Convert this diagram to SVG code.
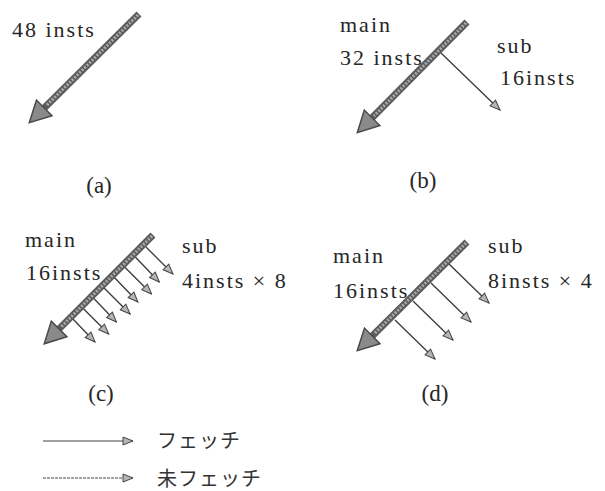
<svg xmlns="http://www.w3.org/2000/svg" width="605" height="491" viewBox="0 0 605 491">
<style>
.shaft{stroke:#5c5c5c;stroke-width:7;fill:none}
.shaft-in{stroke:#ababab;stroke-width:3;stroke-dasharray:2 1.5;fill:none}
.sub{stroke:#3a3a3a;stroke-width:1.3;fill:none;marker-end:url(#hs)}
.leg{stroke:#444;stroke-width:1.2;fill:none;marker-end:url(#hs)}
</style>
<defs>
<marker id="hm" markerUnits="userSpaceOnUse" markerWidth="24" markerHeight="26" viewBox="-1 -13 24 26" refX="0" refY="0" orient="auto">
<path d="M0,-11 L21,0 L0,11 Z" fill="#8a8a8a" stroke="#4a4a4a" stroke-width="1.5"/>
</marker>
<marker id="hs" markerUnits="userSpaceOnUse" markerWidth="12" markerHeight="10" viewBox="-1 -5 12 10" refX="10" refY="0" orient="auto">
<path d="M0,-4 L10,0 L0,4 Z" fill="#b5b5b5" stroke="#444" stroke-width="1"/>
</marker>
</defs>

<g id="connectors">
<line class="shaft" x1="139" y1="14" x2="44.2" y2="107.9" marker-end="url(#hm)"/>
<line class="shaft-in" x1="138" y1="15" x2="46" y2="106"/>
<line class="sub" x1="441" y1="53" x2="500" y2="110"/>
<line class="shaft" x1="467" y1="22" x2="372.1" y2="117.8" marker-end="url(#hm)"/>
<line class="shaft-in" x1="466" y1="23" x2="374" y2="116"/>
<line class="sub" x1="146" y1="247" x2="173" y2="274"/>
<line class="sub" x1="135.3" y1="257" x2="159.3" y2="282"/>
<line class="sub" x1="124.6" y1="267" x2="151.6" y2="294"/>
<line class="sub" x1="113.9" y1="277" x2="137.9" y2="302"/>
<line class="sub" x1="103.1" y1="287" x2="130.1" y2="314"/>
<line class="sub" x1="92.4" y1="297" x2="116.4" y2="322"/>
<line class="sub" x1="81.7" y1="307" x2="108.7" y2="334"/>
<line class="sub" x1="71" y1="317" x2="95" y2="342"/>
<line class="shaft" x1="153" y1="235" x2="59.1" y2="328.9" marker-end="url(#hm)"/>
<line class="shaft-in" x1="152" y1="236" x2="61" y2="327"/>
<line class="sub" x1="449" y1="264" x2="489" y2="303"/>
<line class="sub" x1="431" y1="283" x2="471" y2="322"/>
<line class="sub" x1="413" y1="301" x2="453" y2="340"/>
<line class="sub" x1="395" y1="320" x2="435" y2="359"/>
<line class="shaft" x1="467" y1="242" x2="372.2" y2="335.9" marker-end="url(#hm)"/>
<line class="shaft-in" x1="466" y1="243" x2="374" y2="334"/>
<line class="leg" x1="43" y1="441" x2="133" y2="441"/>
<line class="leg" x1="43" y1="478" x2="133" y2="478" stroke-dasharray="3 1"/>
</g>

<g id="panel-a">
<text font-family="Liberation Serif" font-size="22" fill="#262626" letter-spacing="2" x="12" y="37">48 insts</text>
<text font-family="Liberation Serif" font-size="23" fill="#262626" text-anchor="middle" x="99" y="193">(a)</text>
</g>
<g id="panel-b">
<text font-family="Liberation Serif" font-size="22" fill="#262626" letter-spacing="2" x="340" y="32">main</text>
<text font-family="Liberation Serif" font-size="22" fill="#262626" letter-spacing="2" x="340" y="65">32 insts</text>
<text font-family="Liberation Serif" font-size="22" fill="#262626" letter-spacing="2" x="497" y="53">sub</text>
<text font-family="Liberation Serif" font-size="22" fill="#262626" letter-spacing="2" x="500" y="85">16insts</text>
<text font-family="Liberation Serif" font-size="23" fill="#262626" text-anchor="middle" x="423" y="188">(b)</text>
</g>
<g id="panel-c">
<text font-family="Liberation Serif" font-size="22" fill="#262626" letter-spacing="2" x="25" y="247">main</text>
<text font-family="Liberation Serif" font-size="22" fill="#262626" letter-spacing="2" x="26" y="280">16insts</text>
<text font-family="Liberation Serif" font-size="22" fill="#262626" letter-spacing="2" x="182" y="253">sub</text>
<text font-family="Liberation Serif" font-size="22" fill="#262626" letter-spacing="2" x="182" y="288">4insts × 8</text>
<text font-family="Liberation Serif" font-size="23" fill="#262626" text-anchor="middle" x="101" y="401">(c)</text>
</g>
<g id="panel-d">
<text font-family="Liberation Serif" font-size="22" fill="#262626" letter-spacing="2" x="333" y="263">main</text>
<text font-family="Liberation Serif" font-size="22" fill="#262626" letter-spacing="2" x="333" y="298">16insts</text>
<text font-family="Liberation Serif" font-size="22" fill="#262626" letter-spacing="2" x="488" y="253">sub</text>
<text font-family="Liberation Serif" font-size="22" fill="#262626" letter-spacing="2" x="488" y="288">8insts × 4</text>
<text font-family="Liberation Serif" font-size="23" fill="#262626" text-anchor="middle" x="435" y="401">(d)</text>
</g>
<g id="legend">
<text font-family="Noto Sans CJK JP" font-size="20" fill="#333" letter-spacing="1" x="157" y="448">フェッチ</text>
<text font-family="Noto Sans CJK JP" font-size="20" fill="#333" letter-spacing="1" x="157" y="486">未フェッチ</text>
</g>
</svg>
